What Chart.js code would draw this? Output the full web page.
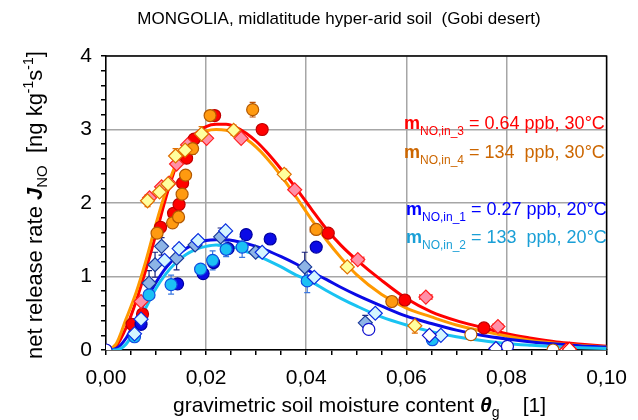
<!DOCTYPE html>
<html>
<head>
<meta charset="utf-8">
<script src="https://cdn.jsdelivr.net/npm/chart.js@4.4.0/dist/chart.umd.min.js"></script>
<style>
  html, body { margin: 0; background: #fff; }
</style>
</head>
<body>
<canvas id="chart" width="638" height="420"></canvas>
<script>
// fitted curves on a shared x grid
const curveX = [0, 0.002, 0.004, 0.006, 0.008, 0.010, 0.012, 0.014, 0.016, 0.018, 0.020, 0.022, 0.024, 0.026, 0.028, 0.030, 0.032, 0.035, 0.038, 0.041, 0.044, 0.047, 0.050, 0.055, 0.060, 0.065, 0.070, 0.075, 0.080, 0.085, 0.090, 0.095, 0.100];
const fitRed    = [0, 0.05, 0.30, 0.66, 1.10, 1.58, 2.08, 2.50, 2.78, 2.95, 3.04, 3.07, 3.07, 3.03, 2.95, 2.84, 2.70, 2.46, 2.20, 1.92, 1.65, 1.42, 1.23, 0.95, 0.70, 0.52, 0.40, 0.31, 0.22, 0.16, 0.11, 0.08, 0.05];
const fitOrange = [0, 0.08, 0.42, 0.78, 1.22, 1.72, 2.17, 2.53, 2.77, 2.91, 2.98, 3.00, 2.99, 2.95, 2.87, 2.76, 2.62, 2.37, 2.08, 1.78, 1.50, 1.25, 1.03, 0.76, 0.57, 0.45, 0.34, 0.26, 0.19, 0.13, 0.09, 0.06, 0.04];
const fitBlue   = [0, 0.02, 0.16, 0.42, 0.68, 0.92, 1.12, 1.27, 1.38, 1.45, 1.49, 1.50, 1.50, 1.48, 1.45, 1.41, 1.36, 1.27, 1.17, 1.06, 0.96, 0.85, 0.75, 0.60, 0.46, 0.36, 0.27, 0.20, 0.15, 0.11, 0.08, 0.055, 0.04];
const fitCyan   = [0, 0.00, 0.08, 0.30, 0.58, 0.84, 1.04, 1.19, 1.30, 1.37, 1.41, 1.43, 1.42, 1.39, 1.34, 1.29, 1.23, 1.13, 1.02, 0.93, 0.81, 0.70, 0.60, 0.45, 0.34, 0.25, 0.18, 0.13, 0.09, 0.065, 0.045, 0.03, 0.02];

// m_NO,in_3 = 0.64 ppb, 30°C
const redCircX = [0.0052, 0.0073, 0.0109, 0.0135, 0.0146, 0.0153, 0.0161, 0.0176, 0.0217, 0.0312, 0.0444, 0.0597, 0.0755];
const redCircY = [0.35, 0.49, 1.67, 1.86, 1.98, 2.27, 2.61, 2.87, 3.19, 3.00, 1.59, 0.68, 0.30];
const redDiaX  = [0.0070, 0.0087, 0.0111, 0.0126, 0.0141, 0.0163, 0.0201, 0.0270, 0.0377, 0.0503, 0.0639, 0.0783];
const redDiaY  = [0.66, 2.07, 2.22, 2.27, 2.53, 2.79, 2.88, 2.88, 2.18, 1.23, 0.72, 0.32];
const redDiaErrX = [0, 0.0008, 0, 0, 0, 0, 0, 0, 0, 0.0012, 0.0012, 0.001];
const redOpenX = [0.0920, 0.0926];
const redOpenY = [0.00, 0.01];

// m_NO,in_4 = 134 ppb, 30°C
const oraCircX = [0.0102, 0.0133, 0.0145, 0.0152, 0.0159, 0.0173, 0.0208, 0.0293, 0.0420, 0.0571];
const oraCircY = [1.59, 1.73, 1.81, 2.12, 2.38, 2.74, 3.19, 3.27, 1.64, 0.66];
const oraCircErrY = [0, 0, 0, 0, 0, 0.08, 0, 0.1, 0, 0];
const oraCircErrX = [0, 0, 0, 0, 0, 0, 0, 0, 0.0012, 0.001];
const oraDiaX = [0.0083, 0.0107, 0.0124, 0.0139, 0.0158, 0.0191, 0.0255, 0.0356, 0.0482, 0.0617];
const oraDiaY = [2.03, 2.15, 2.26, 2.64, 2.72, 2.94, 2.99, 2.39, 1.13, 0.33];
const oraDiaErrY = [0.08, 0, 0, 0.1, 0, 0.1, 0.07, 0.07, 0.05, 0.1];
const oraDiaErrX = [0.0008, 0, 0, 0, 0, 0, 0, 0, 0.001, 0];
const oraOpenX = [0.0729, 0.0893];
const oraOpenY = [0.21, 0.00];

// m_NO,in_1 = 0.27 ppb, 20°C
const bluCircX = [0.0070, 0.0143, 0.0194, 0.0215, 0.0244, 0.0280, 0.0328, 0.0420];
const bluCircY = [0.35, 0.90, 1.04, 1.19, 1.38, 1.57, 1.51, 1.40];
const bluDiaX = [0.0086, 0.0098, 0.0111, 0.0141, 0.0178, 0.0229, 0.0299, 0.0397, 0.0518];
const bluDiaY = [0.91, 1.16, 1.41, 1.25, 1.43, 1.54, 1.33, 1.13, 0.37];
const bluDiaErrY = [0.17, 0.17, 0.12, 0.16, 0, 0.12, 0, 0.2, 0.1];
const bluOpenCircX = [0, 0.0525, 0.0802];
const bluOpenCircY = [0, 0.28, 0.05];
const bluOpenDiaX = [0.0646, 0.0779];
const bluOpenDiaY = [0.20, 0.02];

// m_NO,in_2 = 133 ppb, 20°C
const cyaCircX = [0.0057, 0.0086, 0.0130, 0.0189, 0.0213, 0.0240, 0.0272, 0.0402, 0.0652];
const cyaCircY = [0.18, 0.75, 0.89, 1.10, 1.22, 1.37, 1.40, 0.94, 0.14];
const cyaCircErrY = [0, 0, 0.13, 0, 0.13, 0.1, 0.14, 0.16, 0];
const cyaDiaX = [0.0057, 0.0070, 0.0117, 0.0146, 0.0184, 0.0239, 0.0312, 0.0416, 0.0538, 0.0669];
const cyaDiaY = [0.22, 0.42, 1.22, 1.38, 1.49, 1.62, 1.33, 0.99, 0.50, 0.20];

const legendRows = [
  { sub: 'NO,in_3', text: '= 0.64 ppb, 30°C', color: '#ff0000' },
  { sub: 'NO,in_4', text: '= 134  ppb, 30°C', color: '#cc6600' },
  { sub: 'NO,in_1', text: '= 0.27 ppb, 20°C', color: '#0000ff' },
  { sub: 'NO,in_2', text: '= 133  ppb, 20°C', color: '#1a9fd6' }
];

const FONT = '"Liberation Sans", Arial, sans-serif';

function pts(xs, ys) {
  return xs.map((x, i) => ({ x: x, y: ys[i] }));
}

function curve(ys, color) {
  return {
    type: 'line', data: pts(curveX, ys), borderColor: color, borderWidth: 3,
    pointRadius: 0, fill: false, cubicInterpolationMode: 'monotone', order: 10
  };
}

function marks(xs, ys, style, fill, edge, r) {
  return {
    type: 'scatter', data: pts(xs, ys), pointStyle: style, pointRadius: r || 6,
    backgroundColor: fill, borderColor: edge, borderWidth: 1.2, order: 1
  };
}

const errorBars = [
  { xs: redDiaX, ys: redDiaY, ex: redDiaErrX, color: '#ff2020' },
  { xs: oraCircX, ys: oraCircY, ey: oraCircErrY, ex: oraCircErrX, color: '#c05000' },
  { xs: oraDiaX, ys: oraDiaY, ey: oraDiaErrY, ex: oraDiaErrX, color: '#e07000' },
  { xs: bluDiaX, ys: bluDiaY, ey: bluDiaErrY, color: '#1a237e' },
  { xs: cyaCircX, ys: cyaCircY, ey: cyaCircErrY, color: '#3b78e0' }
];

const errorBarPlugin = {
  id: 'errorBars',
  beforeDatasetsDraw(chart) {
    const { ctx, scales: { x, y } } = chart;
    ctx.save();
    ctx.lineWidth = 1.2;
    errorBars.forEach(s => {
      ctx.strokeStyle = s.color;
      s.xs.forEach((xv, i) => {
        const px = x.getPixelForValue(xv), py = y.getPixelForValue(s.ys[i]);
        if (s.ey && s.ey[i]) {
          const t = y.getPixelForValue(s.ys[i] + s.ey[i]), b = y.getPixelForValue(s.ys[i] - s.ey[i]);
          ctx.beginPath();
          ctx.moveTo(px, t); ctx.lineTo(px, b);
          ctx.moveTo(px - 3, t); ctx.lineTo(px + 3, t);
          ctx.moveTo(px - 3, b); ctx.lineTo(px + 3, b);
          ctx.stroke();
        }
        if (s.ex && s.ex[i]) {
          const l = x.getPixelForValue(xv - s.ex[i]), r = x.getPixelForValue(xv + s.ex[i]);
          ctx.beginPath();
          ctx.moveTo(l, py); ctx.lineTo(r, py);
          ctx.moveTo(l, py - 3); ctx.lineTo(l, py + 3);
          ctx.moveTo(r, py - 3); ctx.lineTo(r, py + 3);
          ctx.stroke();
        }
      });
    });
    // top and right frame
    const a = chart.chartArea;
    ctx.strokeStyle = '#000';
    ctx.lineWidth = 1.5;
    ctx.beginPath();
    ctx.moveTo(a.left, a.top); ctx.lineTo(a.right, a.top); ctx.lineTo(a.right, a.bottom);
    ctx.stroke();
    ctx.restore();
  }
};

// draws a run of text pieces, each with its own font and vertical shift
function drawRuns(ctx, x, y, runs, color) {
  ctx.fillStyle = color;
  ctx.textBaseline = 'alphabetic';
  ctx.textAlign = 'left';
  runs.forEach(r => {
    ctx.font = r.font;
    ctx.fillText(r.t, x, y + (r.dy || 0));
    x += ctx.measureText(r.t).width;
  });
}

const textPlugin = {
  id: 'texts',
  afterDraw(chart) {
    const ctx = chart.ctx;
    ctx.save();
    // title
    ctx.font = '17px ' + FONT;
    ctx.fillStyle = '#000';
    ctx.textAlign = 'center';
    ctx.textBaseline = 'alphabetic';
    ctx.fillText('MONGOLIA, midlatitude hyper-arid soil  (Gobi desert)', 339, 24);

    // x axis title
    drawRuns(ctx, 173, 412, [
      { t: 'gravimetric soil moisture content ', font: '21px ' + FONT },
      { t: 'θ', font: 'italic bold 21px ' + FONT },
      { t: 'g', font: '14px ' + FONT, dy: 5 },
      { t: '    [1]', font: '21px ' + FONT }
    ], '#000');

    // y axis title
    ctx.save();
    ctx.translate(42, 359);
    ctx.rotate(-Math.PI / 2);
    drawRuns(ctx, 0, 0, [
      { t: 'net release rate ', font: '22px ' + FONT },
      { t: 'J', font: 'italic bold 22px ' + FONT },
      { t: 'NO', font: '15px ' + FONT, dy: 5 },
      { t: '  [ng kg', font: '22px ' + FONT },
      { t: '-1', font: '14px ' + FONT, dy: -9 },
      { t: 's', font: '22px ' + FONT },
      { t: '-1', font: '14px ' + FONT, dy: -9 },
      { t: ']', font: '22px ' + FONT }
    ], '#000');
    ctx.restore();

    // annotations
    const rowY = [129, 158, 215, 243];
    const rowX = [404, 404, 406, 406];
    legendRows.forEach((row, i) => {
      drawRuns(ctx, rowX[i], rowY[i], [
        { t: 'm', font: 'bold 18px ' + FONT },
        { t: row.sub, font: '12px ' + FONT, dy: 6 },
        { t: ' ' + row.text, font: '18px ' + FONT }
      ], row.color);
    });
    ctx.restore();
  }
};

const isMajorX = v => Math.round(v * 1000) % 20 === 0;
const isMajorY = v => Math.abs(v - Math.round(v)) < 1e-6;

new Chart(document.getElementById('chart'), {
  type: 'scatter',
  data: {
    datasets: [
      marks(bluOpenCircX, bluOpenCircY, 'circle', '#ffffff', '#1010d0'),
      marks(redOpenX, redOpenY, 'rectRot', '#ffffff', '#ff0000', 7),
      marks(oraOpenX, oraOpenY, 'circle', '#ffffff', '#b35900'),
      marks(bluOpenDiaX, bluOpenDiaY, 'rectRot', '#ffffff', '#1010d0', 7),
      marks(cyaDiaX, cyaDiaY, 'rectRot', '#d4f6ff', '#0a2ee0', 7),
      marks(cyaCircX, cyaCircY, 'circle', '#1cc0f4', '#1050e0'),
      marks(bluDiaX, bluDiaY, 'rectRot', '#8db4e6', '#1a3a9a', 7),
      marks(bluCircX, bluCircY, 'circle', '#0a0ae6', '#0000a0'),
      marks(oraDiaX, oraDiaY, 'rectRot', '#ffff9e', '#e07000', 7),
      marks(oraCircX, oraCircY, 'circle', '#ff9a10', '#b35900'),
      marks(redDiaX, redDiaY, 'rectRot', '#ff90a8', '#ff2020', 7),
      marks(redCircX, redCircY, 'circle', '#ff0000', '#c00000'),
      curve(fitCyan, '#19c3f2'),
      curve(fitBlue, '#0a0ae6'),
      curve(fitOrange, '#ff9900'),
      curve(fitRed, '#ff0000')
    ]
  },
  options: {
    responsive: false,
    animation: false,
    layout: { padding: { left: 0, top: 56, right: 20, bottom: 0 } },
    plugins: { legend: { display: false }, tooltip: { enabled: false }, title: { display: false } },
    scales: {
      x: {
        type: 'linear', min: 0, max: 0.1,
        afterFit: s => { s.height = 70; },
        ticks: {
          stepSize: 0.005, autoSkip: false, maxRotation: 0, padding: 11,
          color: '#000', font: { family: FONT, size: 21 },
          callback: v => isMajorX(v) ? v.toFixed(2).replace('.', ',') : ''
        },
        grid: {
          color: c => (c.tick && isMajorX(c.tick.value) ? '#a6a6a6' : 'rgba(0,0,0,0)'),
          lineWidth: 1.5, tickColor: '#000', tickLength: 5
        },
        border: { color: '#000', width: 1.5 }
      },
      y: {
        min: 0, max: 4,
        afterFit: s => { s.width = 106; },
        ticks: {
          stepSize: 0.2, autoSkip: false, padding: 9,
          color: '#000', font: { family: FONT, size: 21 },
          callback: v => isMajorY(v) ? String(Math.round(v)) : ''
        },
        grid: {
          color: c => (c.tick && isMajorY(c.tick.value) ? '#a6a6a6' : 'rgba(0,0,0,0)'),
          lineWidth: 1.5, tickColor: '#000', tickLength: 5
        },
        border: { color: '#000', width: 1.5 }
      }
    }
  },
  plugins: [errorBarPlugin, textPlugin]
});
</script>
</body>
</html>
